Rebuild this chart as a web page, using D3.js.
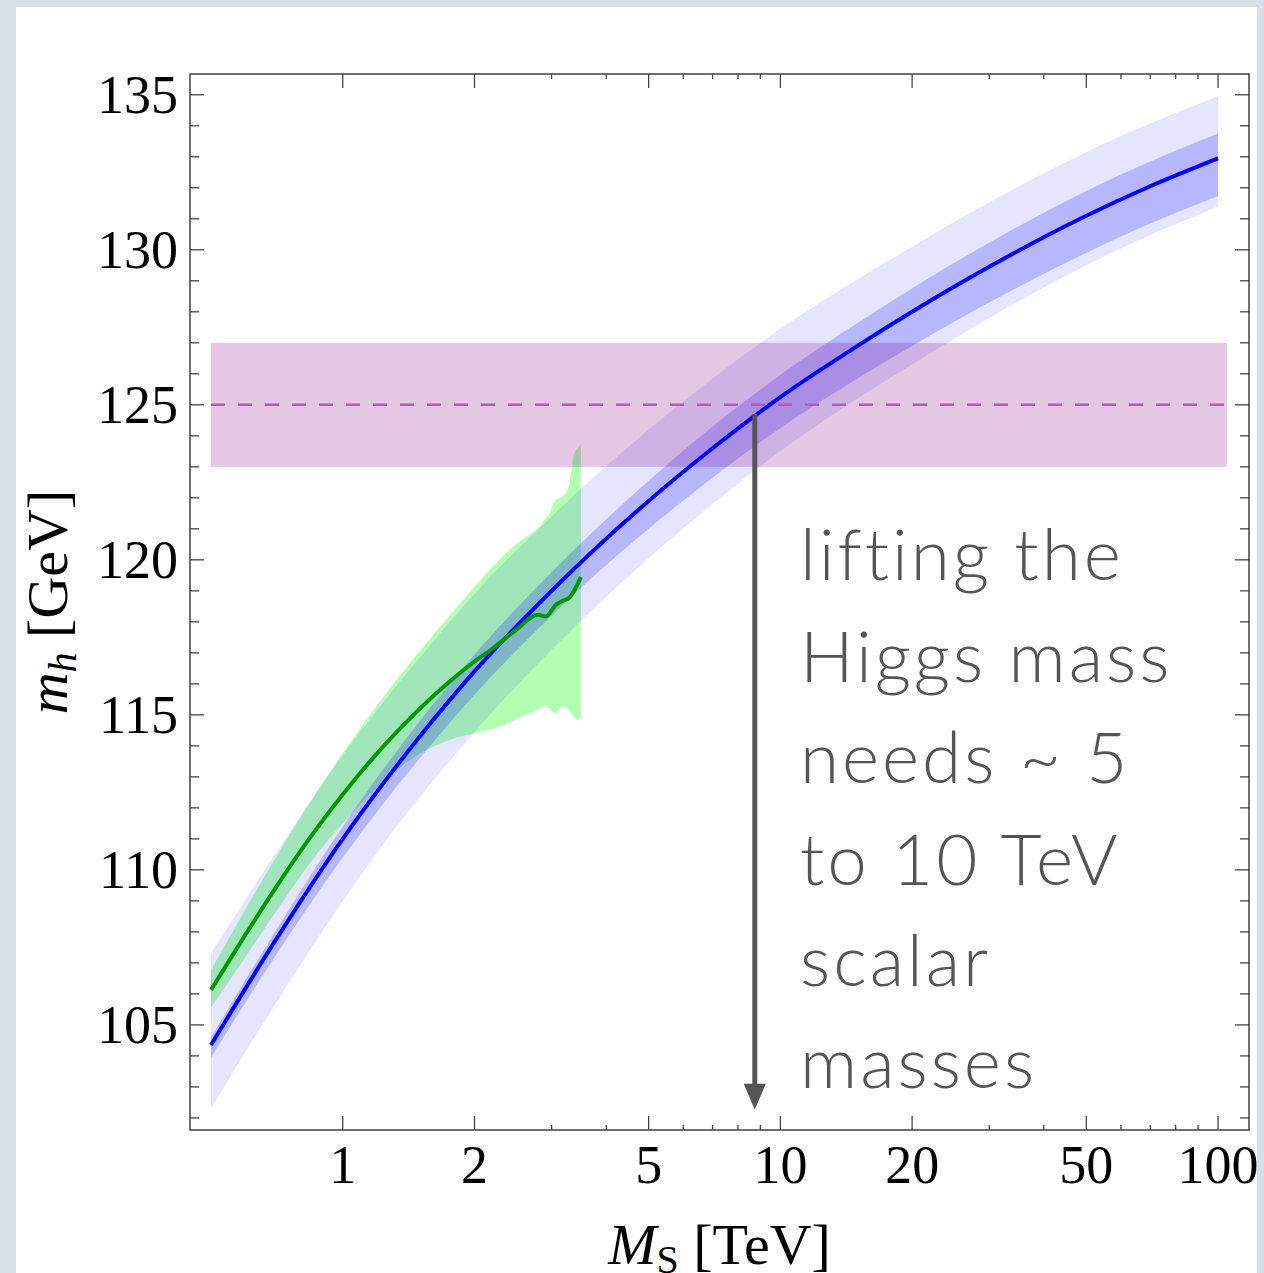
<!DOCTYPE html>
<html>
<head>
	<title>Higgs mass vs scalar mass</title>
	<meta charset="utf-8">
	<script src="https://d3js.org/d3.v7.min.js"></script>
	<style>
		body { margin: 0; background: #d9dfe6; }
	</style>
</head>
<body>
	<script type="text/javascript">
		var width = 1264
		var height = 1273

		// blue prediction: central curve with two uncertainty bands
		var blueMs = [0.5, 0.7, 1, 1.5, 2, 3, 5, 7, 10, 15, 20, 30, 50, 70, 100]
		var blueMh = [104.35, 107.7, 111.0, 114.3, 116.4, 119.0, 121.9, 123.6, 125.25, 126.9, 128.0, 129.45, 131.1, 132.05, 132.95]
		var innerLow = [103.95, 107.2, 110.4, 113.6, 115.65, 118.2, 121.0, 122.65, 124.25, 125.85, 126.9, 128.3, 129.9, 130.85, 131.73]
		var innerHigh = [104.6, 108.0, 111.4, 114.8, 116.95, 119.6, 122.55, 124.3, 125.97, 127.64, 128.76, 130.23, 131.9, 132.85, 133.75]
		var outerLow = [102.3, 105.65, 109.0, 112.35, 114.45, 117.1, 120.05, 121.8, 123.5, 125.2, 126.3, 127.8, 129.5, 130.48, 131.4]
		var outerHigh = [107.3, 110.5, 113.7, 116.85, 118.9, 121.4, 124.2, 125.85, 127.45, 129.05, 130.1, 131.53, 133.15, 134.07, 134.95]

		// green prediction (stops at 3.5 TeV)
		var greenMs = [0.5, 0.6, 0.7, 0.85, 1.0, 1.25, 1.5, 1.75, 2.0, 2.2, 2.49, 2.79, 2.91, 3.07, 3.18, 3.29, 3.5]
		var greenMh = [106.13, 107.92, 109.39, 111.12, 112.43, 114.05, 115.2, 116.06, 116.72, 117.14, 117.74, 118.23, 118.17, 118.55, 118.68, 118.77, 119.44]
		var greenBandMs = [0.5, 0.6, 0.7, 0.85, 1.0, 1.25, 1.5, 1.754, 2.088, 2.278, 2.49, 2.67, 2.79, 2.91, 2.96, 3.05, 3.18, 3.29, 3.38, 3.45, 3.5]
		var greenBandHigh = [106.77, 108.74, 110.35, 112.26, 113.76, 115.65, 117.06, 118.19, 119.42, 120.0, 120.5, 120.81, 121.0, 121.35, 121.45, 121.9, 122.05, 122.4, 123.44, 123.6, 123.76]
		var greenBandLow = [105.55, 107.2, 108.6, 110.3, 111.5, 112.9, 113.75, 114.19, 114.46, 114.62, 114.84, 115.05, 115.16, 115.32, 115.21, 115.05, 115.27, 115.16, 114.9, 114.84, 114.94]

		// measured Higgs mass band
		var measMh = 125
		var measLow = 123
		var measHigh = 127
		var measMs = [0.5, 104.7]

		// arrow: from the blue curve down to the axis
		var arrowMs = 8.74
		var arrowFrom = 124.7
		var arrowTo = 102.26

		var xMajor = [1, 2, 5, 10, 20, 50, 100]
		var xMinor = [3, 4, 6, 7, 8, 9, 30, 40, 60, 70, 80, 90]
		var yMajor = [105, 110, 115, 120, 125, 130, 135]
		var yMinor = d3.range(102, 136)

		var noteLines = ["lifting the", "Higgs mass", "needs ~ 5", "to 10 TeV", "scalar", "masses"]

		var pLeft = 190, pRight = 1249, pTop = 74, pBottom = 1130

		var x = d3.scaleLog().domain([0.4477, 117.7]).range([pLeft, pRight])
		var y = d3.scaleLinear().domain([101.61, 135.67]).range([pBottom, pTop])

		var svg = d3.select("body").append("svg")
			.attr("width", width)
			.attr("height", height)

		// slide background and white page
		svg.append("rect").attr("width", width).attr("height", height).attr("fill", "#d9dfe6")
		svg.append("rect")
			.attr("x", 16).attr("y", 7)
			.attr("width", 1241).attr("height", height)
			.attr("fill", "#ffffff")

		svg.append("clipPath").attr("id", "plotclip")
			.append("rect")
			.attr("x", pLeft).attr("y", pTop)
			.attr("width", pRight - pLeft).attr("height", pBottom - pTop)

		var plot = svg.append("g").attr("clip-path", "url(#plotclip)")

		// green band
		plot.append("path")
			.attr("d", d3.area()
				.x((m, i) => x(m))
				.y0((m, i) => y(greenBandLow[i]))
				.y1((m, i) => y(greenBandHigh[i]))
				.curve(d3.curveMonotoneX)(greenBandMs))
			.attr("fill", "rgb(0,255,0)")
			.attr("fill-opacity", 0.3)

		var idx = d3.range(blueMs.length)
		function band(lo, hi) {
			return d3.area()
				.x(i => x(blueMs[i]))
				.y0(i => y(lo[i]))
				.y1(i => y(hi[i]))
				.curve(d3.curveMonotoneX)(idx)
		}
		plot.append("path").attr("d", band(outerLow, outerHigh))
			.attr("fill", "rgb(0,0,255)").attr("fill-opacity", 0.1)
		plot.append("path").attr("d", band(innerLow, innerHigh))
			.attr("fill", "rgb(0,0,255)").attr("fill-opacity", 0.2)

		// measured band
		plot.append("rect")
			.attr("x", x(measMs[0]))
			.attr("y", y(measHigh))
			.attr("width", x(measMs[1]) - x(measMs[0]))
			.attr("height", y(measLow) - y(measHigh))
			.attr("fill", "rgb(128,0,128)")
			.attr("fill-opacity", 0.22)
		plot.append("line")
			.attr("x1", x(measMs[0])).attr("x2", x(measMs[1]))
			.attr("y1", y(measMh)).attr("y2", y(measMh))
			.attr("stroke", "#b35cb3")
			.attr("stroke-width", 2.5)
			.attr("stroke-dasharray", "14,13")

		// central curves
		plot.append("path")
			.attr("d", d3.line().x(i => x(blueMs[i])).y(i => y(blueMh[i])).curve(d3.curveMonotoneX)(idx))
			.attr("fill", "none")
			.attr("stroke", "#0000ff")
			.attr("stroke-width", 4)
		plot.append("path")
			.attr("d", d3.line().x((m, i) => x(m)).y((m, i) => y(greenMh[i])).curve(d3.curveMonotoneX)(greenMs))
			.attr("fill", "none")
			.attr("stroke", "#009a00")
			.attr("stroke-width", 4)

		// arrow
		var ax = x(arrowMs)
		svg.append("line")
			.attr("x1", ax).attr("x2", ax)
			.attr("y1", y(arrowFrom)).attr("y2", y(arrowTo) - 20)
			.attr("stroke", "#555555")
			.attr("stroke-width", 5)
		svg.append("path")
			.attr("d", "M" + (ax - 11) + "," + (y(arrowTo) - 26) + "L" + (ax + 11) + "," + (y(arrowTo) - 26) + "L" + ax + "," + y(arrowTo) + "Z")
			.attr("fill", "#555555")

		// frame and ticks (mirrored on all four sides)
		svg.append("rect")
			.attr("x", pLeft).attr("y", pTop)
			.attr("width", pRight - pLeft).attr("height", pBottom - pTop)
			.attr("fill", "none")
			.attr("stroke", "#333333")
			.attr("stroke-width", 1.4)

		var ticks = svg.append("g").attr("stroke", "#444444").attr("stroke-width", 1.3)
		xMajor.forEach(function(m) {
			ticks.append("line").attr("x1", x(m)).attr("x2", x(m)).attr("y1", pBottom).attr("y2", pBottom - 14)
			ticks.append("line").attr("x1", x(m)).attr("x2", x(m)).attr("y1", pTop).attr("y2", pTop + 14)
		})
		xMinor.forEach(function(m) {
			ticks.append("line").attr("x1", x(m)).attr("x2", x(m)).attr("y1", pBottom).attr("y2", pBottom - 5)
			ticks.append("line").attr("x1", x(m)).attr("x2", x(m)).attr("y1", pTop).attr("y2", pTop + 5)
		})
		yMinor.forEach(function(v) {
			var len = yMajor.indexOf(v) >= 0 ? 14 : 9
			ticks.append("line").attr("x1", pLeft).attr("x2", pLeft + len).attr("y1", y(v)).attr("y2", y(v))
			ticks.append("line").attr("x1", pRight).attr("x2", pRight - len).attr("y1", y(v)).attr("y2", y(v))
		})

		var serif = "'Liberation Serif', 'Times New Roman', serif"

		svg.append("g").selectAll("text")
			.data(xMajor)
			.enter()
			.append("text")
			.attr("x", d => x(d))
			.attr("y", pBottom + 53)
			.attr("text-anchor", "middle")
			.attr("font-family", serif)
			.attr("font-size", 54)
			.text(d => d)

		svg.append("g").selectAll("text")
			.data(yMajor)
			.enter()
			.append("text")
			.attr("x", pLeft - 12)
			.attr("y", d => y(d) + 18)
			.attr("text-anchor", "end")
			.attr("font-family", serif)
			.attr("font-size", 54)
			.text(d => d)

		// axis titles
		var xt = svg.append("text")
			.attr("x", (pLeft + pRight) / 2)
			.attr("y", 1264)
			.attr("text-anchor", "middle")
			.attr("font-family", serif)
			.attr("font-size", 58)
		xt.append("tspan").attr("font-style", "italic").text("M")
		xt.append("tspan").attr("font-size", 40).attr("dy", 9).text("S")
		xt.append("tspan").attr("dy", -9).text(" [TeV]")

		var yt = svg.append("text")
			.attr("transform", "translate(67," + (pTop + pBottom) / 2 + ") rotate(-90)")
			.attr("text-anchor", "middle")
			.attr("font-family", serif)
			.attr("font-size", 58)
		yt.append("tspan").attr("font-style", "italic").text("m")
		yt.append("tspan").attr("font-style", "italic").attr("font-size", 40).attr("dy", 9).text("h")
		yt.append("tspan").attr("dy", -9).text(" [GeV]")

		// annotation
		svg.append("g").selectAll("text")
			.data(noteLines)
			.enter()
			.append("text")
			.attr("x", 800)
			.attr("y", (d, i) => 580 + i * 101.5)
			.attr("font-family", "Lato, 'Open Sans', sans-serif")
			.attr("font-weight", 300)
			.attr("font-size", 71)
			.attr("letter-spacing", 3)
			.attr("fill", "#555555")
			.text(d => d)
	</script>
</body>
</html>
